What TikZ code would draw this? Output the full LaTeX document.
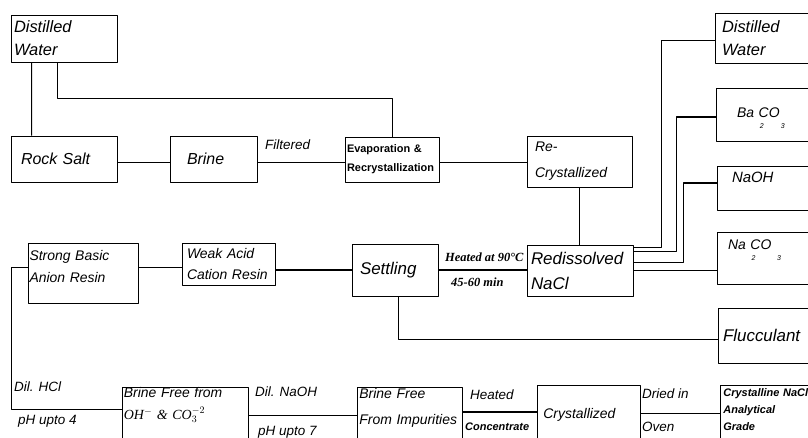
\documentclass[tikz,border=0pt]{standalone}
\usepackage{fontspec}
\setmainfont{Liberation Sans}
\newfontfamily\timesfont{Liberation Serif}
\begin{document}
\begin{tikzpicture}[line join=bevel,
  box/.style={draw,line width=0.8bp,align=left,inner ysep=2bp,font=\itshape\fontsize{14}{23}\selectfont},
  bigbox/.style={box,font=\itshape\fontsize{16}{25}\selectfont},
  cutbox/.style={box,anchor=north west,text depth=60bp},
  lbl/.style={anchor=west,inner sep=0pt,font=\itshape\fontsize{13.5}{15}\selectfont},
  boldlbl/.style={anchor=west,inner sep=0pt,font=\bfseries\itshape\fontsize{11}{15}\selectfont},
  timeslbl/.style={anchor=west,inner sep=0pt,font=\timesfont\bfseries\itshape\fontsize{12.5}{15}\selectfont},
  pipe/.style={line width=0.8bp},
  mainpipe/.style={line width=1.5bp},
]
%%
\useasboundingbox (0bp,0bp) rectangle (808bp,438bp);
\clip (0bp,0bp) rectangle (808bp,438bp);
\node (water_1) at (64bp,399.5bp) [box,inner xsep=3bp,text width=100bp,minimum height=47bp,font=\itshape\fontsize{16.5}{23}\selectfont] {Distilled\\Water};
  \node (rock_salt) at (64bp,279bp) [bigbox,inner xsep=10bp,text width=86bp,minimum height=46bp] {Rock Salt};
  \node (brine) at (213.5bp,279bp) [bigbox,inner xsep=17bp,text width=53bp,minimum height=46bp] {Brine};
  \node (evaporation) at (392bp,278.5bp) [box,inner xsep=2bp,text width=90bp,minimum height=45bp,font=\bfseries\fontsize{11}{19}\selectfont] {Evaporation \&\\Recrystallization};
  \node (recrystallized) at (579.5bp,276.5bp) [box,inner xsep=8bp,text width=89bp,minimum height=51bp,font=\itshape\fontsize{14}{26}\selectfont] {Re-\\Crystallized};
  \node (water_2) at (777.5bp,400bp) [box,inner xsep=7bp,text width=111bp,minimum height=50bp,font=\itshape\fontsize{16.5}{23}\selectfont] {Distilled\\Water};
  \node (baco3) at (778bp,323.5bp) [box,inner xsep=21bp,text width=82bp,minimum height=53bp,text height=11bp,text depth=4bp] {Ba\rlap{\raisebox{-11bp}{\fontsize{7}{7}\selectfont\ \,2}}\ CO\raisebox{-11bp}{\fontsize{7}{7}\selectfont\,3}};
  \node (naoh) at (778.5bp,250bp) [box,inner xsep=15bp,text width=93bp,minimum height=44bp,text height=11bp,text depth=21bp,font=\itshape\fontsize{15}{23}\selectfont] {NaOH};
  \node (na2co3) at (778.5bp,180bp) [box,inner xsep=11bp,text width=101bp,minimum height=52bp,text height=11bp,text depth=27bp] {Na\rlap{\raisebox{-11bp}{\fontsize{7}{7}\selectfont\ \,2}}\ CO\raisebox{-11bp}{\fontsize{7}{7}\selectfont\ \,3}};
  \node (flucculant) at (779bp,102.5bp) [bigbox,inner xsep=5bp,text width=112bp,minimum height=55bp,font=\itshape\fontsize{17}{25}\selectfont] {Flucculant};
  \node (redissolved) at (580bp,167.5bp) [bigbox,inner xsep=4bp,text width=98bp,minimum height=51bp,font=\itshape\fontsize{17}{25}\selectfont] {Redissolved\\NaCl};
  \node (settling) at (395bp,168bp) [bigbox,inner xsep=8bp,text width=70bp,minimum height=52bp,font=\itshape\fontsize{17}{25}\selectfont] {Settling};
  \node (weak_acid) at (228.5bp,174bp) [box,inner xsep=5bp,text width=83bp,minimum height=42bp,font=\itshape\fontsize{14}{22}\selectfont] {Weak Acid\\Cation Resin};
  \node (strong_basic) at (83bp,165bp) [box,inner xsep=1.5bp,text width=107bp,minimum height=60bp,text height=10bp,text depth=34bp,font=\itshape\fontsize{14}{22}\selectfont] {Strong Basic\\Anion Resin};
  \node (brine_oh) at (122bp,51bp) [cutbox,inner xsep=1.5bp,text width=123bp,text height=8bp,font=\itshape\fontsize{14}{22}\selectfont] {Brine Free from\\{\timesfont OH$^{-}$~\& CO$_3^{-2}$}};
  \node (brine_imp) at (357bp,51bp) [cutbox,inner xsep=2bp,text width=101bp,text height=9bp,font=\itshape\fontsize{14}{26}\selectfont] {Brine Free\\From Impurities};
  \node (crystallized) at (537bp,53bp) [cutbox,inner xsep=6bp,text width=91bp,text height=31bp] {Crystallized};
  \node (crystalline) at (720bp,53bp) [cutbox,inner xsep=3bp,text width=120bp,text height=9bp,font=\bfseries\itshape\fontsize{11}{17}\selectfont] {Crystalline NaCl\\Analytical\\Grade};
%
\node (filtered) at (265bp,293bp) [lbl] {Filtered};
  \node (heated_90) at (445bp,181bp) [timeslbl] {Heated at 90\textdegree{}C};
  \node (minutes) at (451bp,156bp) [timeslbl] {45-60 min};
  \node (dil_hcl) at (14bp,51bp) [lbl] {Dil. HCl};
  \node (ph_4) at (18bp,17bp) [lbl] {pH upto 4};
  \node (dil_naoh) at (255bp,46bp) [lbl] {Dil. NaOH};
  \node (ph_7) at (258bp,6bp) [lbl] {pH upto 7};
  \node (heated) at (470bp,43bp) [lbl] {Heated};
  \node (concentrate) at (465bp,11bp) [boldlbl] {Concentrate};
  \node (dried) at (642bp,44bp) [lbl] {Dried in};
  \node (oven) at (642bp,11bp) [lbl] {Oven};
%
\draw [pipe] ([xshift=21bp]water_1.south west) -- ([xshift=21bp]rock_salt.north west);
  \draw [pipe] ([xshift=47bp]water_1.south west) -- ++(0bp,-36bp) -| (evaporation.north);
  \draw [pipe] ([yshift=-3bp]rock_salt.east) -- ([yshift=-3bp]brine.west);
  \draw [pipe] ([yshift=-3bp]brine.east) -- ([yshift=-3bp]brine.east -| evaporation.west);
  \draw [pipe] ([yshift=-2.5bp]evaporation.east) -- ([yshift=-2.5bp]evaporation.east -| recrystallized.west);
  \draw [pipe] (recrystallized.south) -- (recrystallized.south |- redissolved.north);
  \draw [pipe] ([yshift=-3bp]redissolved.north east) -| ([xshift=-53bp,yshift=-2bp]water_2.west) -- ([yshift=-2bp]water_2.west);
  \draw [mainpipe] ([yshift=-7bp]redissolved.north east) -| ([xshift=-39bp,yshift=-2.5bp]baco3.west) -- ([yshift=-2.5bp]baco3.west);
  \draw [mainpipe] ([yshift=-18bp]redissolved.north east) -| ([xshift=-33bp,yshift=5bp]naoh.west) -- ([yshift=5bp]naoh.west);
  \draw [mainpipe] (redissolved.east) -- (redissolved.east -| na2co3.west);
  \draw [mainpipe] (settling.east) -- (settling.east -| redissolved.west);
  \draw [pipe] ([xshift=3bp]settling.south) |- ([yshift=-3.5bp]flucculant.west);
  \draw [mainpipe] (settling.west -| weak_acid.east) -- (settling.west);
  \draw [pipe] ([yshift=6bp]strong_basic.east) -- ([yshift=6bp]strong_basic.east -| weak_acid.west);
  \draw [pipe] ([yshift=6bp]strong_basic.west) -- ++(-16bp,0bp) |- ([yshift=-22bp]brine_oh.north west);
  \draw [pipe] ([yshift=-28bp]brine_oh.north east) -- ([yshift=-28bp]brine_oh.north east -| brine_imp.west);
  \draw [mainpipe] ([yshift=-25bp]brine_imp.north east) -- ([yshift=-25bp]brine_imp.north east -| crystallized.west);
  \draw [pipe] ([yshift=-28bp]crystallized.north east) -- ([yshift=-28bp]crystallized.north east -| crystalline.west);
%
\end{tikzpicture}
\end{document}
